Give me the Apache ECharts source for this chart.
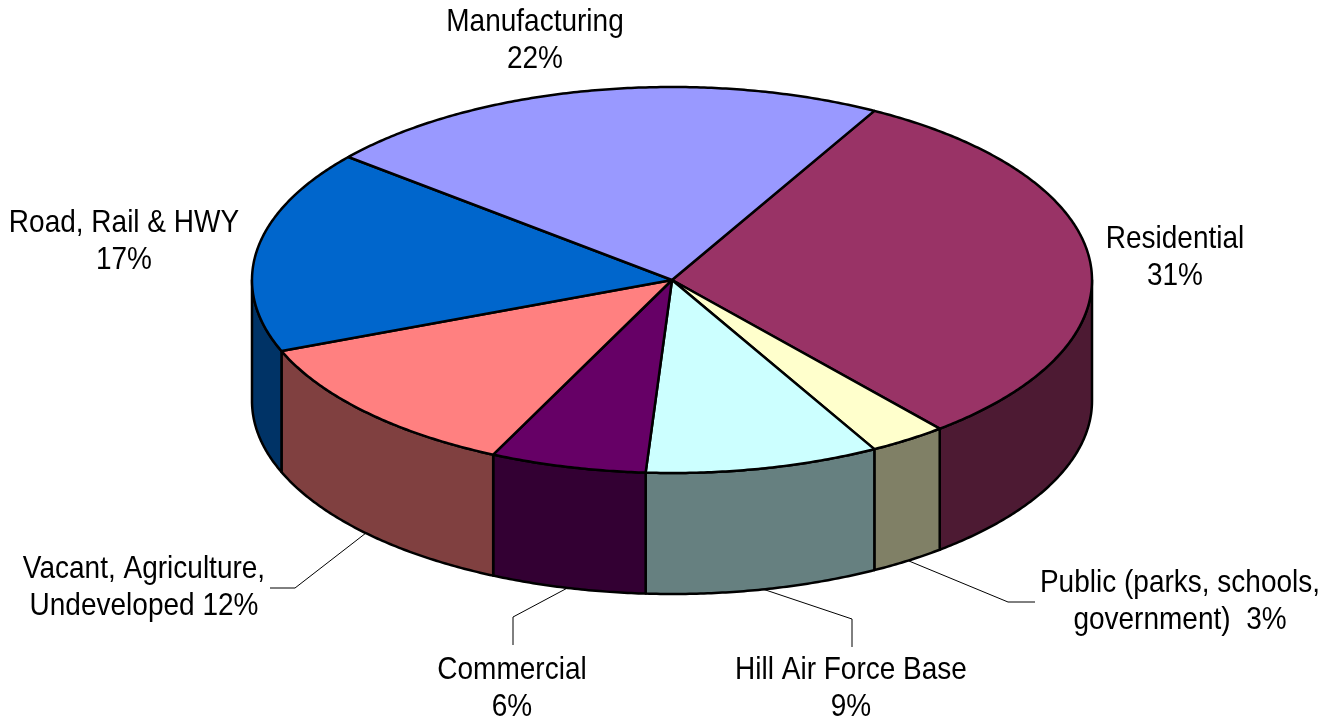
<!DOCTYPE html>
<html>
<head>
<meta charset="utf-8">
<script src="https://cdn.jsdelivr.net/npm/echarts@6/dist/echarts.min.js"></script>
<style>html,body{margin:0;padding:0;background:#fff;}#chart{width:1338px;height:727px;}</style>
</head>
<body>
<div id="chart"></div>
<script>
// ---- data ----
const categories = ['Residential', 'Public (parks, schools,\ngovernment)', 'Hill Air Force Base', 'Commercial', 'Vacant, Agriculture,\nUndeveloped', 'Road, Rail & HWY', 'Manufacturing'];
const percentValues = [31, 3, 9, 6, 12, 17, 22];
const labelSeparators = ['\n', '  ', '\n', '\n', ' ', '\n', '\n'];

// ---- styles ----
const topColors = ['#993366', '#FFFFCC', '#CCFFFF', '#660066', '#FF8080', '#0066CC', '#9999FF'];
const sideColors = ['#4D1A33', '#808066', '#668080', '#330033', '#804040', '#003366', '#4D4D80'];

// ---- layout ----
const pie = { cx: 672, cy: 280, rx: 420, ry: 193, depth: 121, startDeg: -61.2 };
const labelLayout = [
  { x: 1175, y: 258 },
  { x: 1180, y: 602, elbow: [1008, 602], end: [1035, 602] },
  { x: 851, y: 689, elbow: [852, 619], end: [852, 647] },
  { x: 512, y: 689, elbow: [513, 617], end: [513, 645] },
  { x: 144, y: 588, elbow: [295, 588], end: [270, 588] },
  { x: 124, y: 242 },
  { x: 535, y: 41 }
];

const total = percentValues.reduce((a, b) => a + b, 0);
function ept(tDeg, dy) {
  const t = tDeg * Math.PI / 180;
  return [pie.cx + pie.rx * Math.cos(t), pie.cy + pie.ry * Math.sin(t) + (dy || 0)];
}
function arcPts(a0, a1, dy) {
  const pts = [];
  const n = Math.max(2, Math.ceil(Math.abs(a1 - a0) / 0.5));
  for (let i = 0; i <= n; i++) pts.push(ept(a0 + (a1 - a0) * i / n, dy));
  return pts;
}

const chart = echarts.init(document.getElementById('chart'), null, { renderer: 'canvas' });
chart.setOption({
  backgroundColor: '#ffffff',
  animation: false,
  series: [{
    type: 'custom',
    coordinateSystem: 'none',
    data: percentValues,
    renderItem: function (params, api) {
      const i = params.dataIndex;
      let before = 0;
      for (let k = 0; k < i; k++) before += percentValues[k];
      const a0 = pie.startDeg + before / total * 360;
      const a1 = a0 + api.value(0) / total * 360;
      const children = [];
      // visible side wall (front half: angles 0..180 mod 360)
      for (let off = -360; off <= 360; off += 360) {
        const s = Math.max(a0, 0 + off), e = Math.min(a1, 180 + off);
        if (e > s) {
          const top = arcPts(s, e, 0);
          const bot = arcPts(e, s, pie.depth);
          children.push({
            type: 'polygon', z2: 1,
            shape: { points: top.concat(bot) },
            style: { fill: sideColors[i], stroke: '#000', lineWidth: 2.5, lineJoin: 'round' }
          });
        }
      }
      // top face
      const topPts = [[pie.cx, pie.cy]].concat(arcPts(a0, a1, 0));
      children.push({
        type: 'polygon', z2: 10,
        shape: { points: topPts },
        style: { fill: topColors[i], stroke: '#000', lineWidth: 2.5, lineJoin: 'round' }
      });
      // label
      const L = labelLayout[i];
      children.push({
        type: 'text', z2: 20,
        scaleY: 1.1, originX: L.x, originY: L.y,
        style: {
          text: categories[i] + labelSeparators[i] + api.value(0) + '%',
          x: L.x, y: L.y,
          fill: '#000',
          fontSize: 28,
          fontFamily: '"Liberation Sans", Arial, sans-serif',
          align: 'center', verticalAlign: 'middle',
          lineHeight: 34.5
        }
      });
      if (L.elbow) {
        const mid = (a0 + a1) / 2;
        const anchor = ept(mid, pie.depth);
        children.push({
          type: 'polyline', z2: 20,
          shape: { points: [anchor, L.elbow, L.end] },
          style: { stroke: '#000', lineWidth: 1, fill: null }
        });
      }
      return { type: 'group', children: children };
    }
  }]
});
</script>
</body>
</html>
